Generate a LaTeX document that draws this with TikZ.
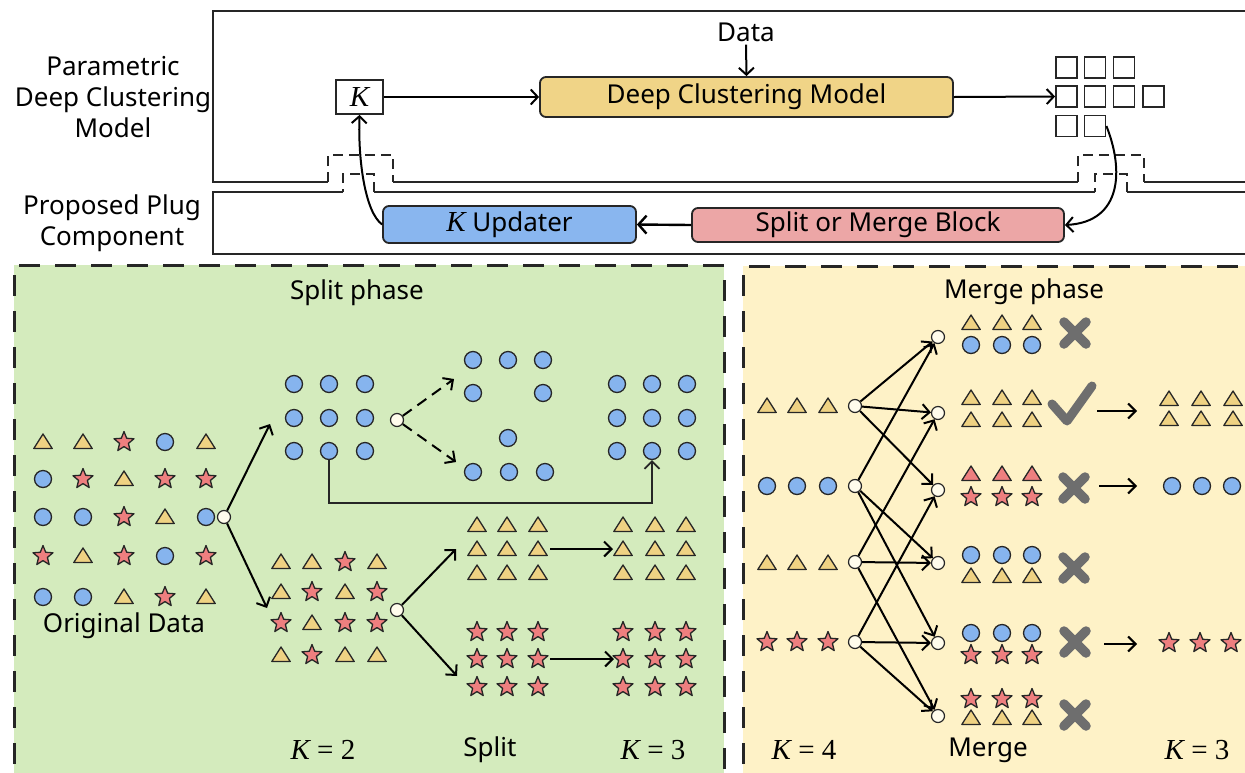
\documentclass[tikz,border=0pt]{standalone}
\usepackage{fontspec}
\setmainfont{Noto Sans}
\newfontfamily\kfont{Liberation Serif}
\usetikzlibrary{arrows.meta}
\definecolor{cblue}{HTML}{86B4EE}
\definecolor{tyel}{HTML}{EFD283}
\definecolor{sred}{HTML}{EE7F7F}
\definecolor{gbg}{HTML}{D4EBBD}
\definecolor{ybg}{HTML}{FEF2C7}
\definecolor{dcmfill}{HTML}{F0D487}
\definecolor{smfill}{HTML}{ECA6A6}
\definecolor{kufill}{HTML}{89B6EF}
\definecolor{ink}{HTML}{262626}
\definecolor{markgray}{HTML}{6E6E6E}
\definecolor{nodefill}{HTML}{FFFCEC}
\newcommand\KK{{\kfont\fontsize{29}{31}\selectfont\itshape K}}
\newcommand\Keq[1]{{\kfont\fontsize{29}{31}\selectfont\itshape K\upshape\ =\ #1}}
\tikzset{
  symline/.style={draw=ink, line width=1.3pt, line join=round},
  circ/.pic={\path[symline, fill=cblue] (0pt,0pt) circle (8.5pt);},
  tri/.pic={\path[symline, fill=tyel] (0pt,8pt) -- (9.2pt,-6.5pt) -- (-9.2pt,-6.5pt) -- cycle;},
  rtri/.pic={\path[symline, fill=sred] (0pt,8pt) -- (9.2pt,-6.5pt) -- (-9.2pt,-6.5pt) -- cycle;},
  star/.pic={\path[symline, fill=sred] (90:10.5pt) -- (126:4.6pt) -- (162:10.5pt) -- (198:4.6pt) -- (234:10.5pt) -- (270:4.6pt) -- (306:10.5pt) -- (342:4.6pt) -- (18:10.5pt) -- (54:4.6pt) -- cycle;},
  xmark/.pic={\draw[markgray, line width=9.5pt, line cap=round] (-11pt,-11pt) -- (11pt,11pt) (-11pt,11pt) -- (11pt,-11pt);},
  lbl/.style={font=\fontsize{26}{31}\selectfont, text=black, inner sep=0pt, align=center},
  boxline/.style={draw=ink, line width=1.8pt},
  notch/.style={draw=ink, line width=1.8pt, dash pattern=on 10pt off 6pt},
  blk/.style={draw=ink, line width=1.8pt, rounded corners=6pt, inner sep=0pt, font=\fontsize{26}{31}\selectfont},
  sq/.style={draw=ink, line width=1.8pt, minimum size=21pt, inner sep=0pt},
  onode/.style={circle, draw=ink, fill=nodefill, line width=1.2pt, minimum size=13pt, inner sep=0pt},
  arr/.style={draw=black, line width=2pt, -{Straight Barb[length=7pt,width=15pt]}},
  sarr/.style={draw=black, line width=2pt, -{Straight Barb[length=7.5pt,width=15pt]}},
  darr/.style={sarr, dash pattern=on 11pt off 7pt},
  panel/.style={line width=3pt, draw=ink, dash pattern=on 21pt off 15pt},
}
\begin{document}
\begin{tikzpicture}[x=1pt,y=-1pt]
\useasboundingbox (0,0) rectangle (1245,772);
\fill[white] (0,0) rectangle (1245,772);

% ---------- top section ----------
\draw[boxline] (1260,11) -- (213,11) -- (213,182) -- (328,182);
\draw[notch] (328,182) -- (328,155) -- (393,155) -- (393,182);
\draw[boxline] (393,182) -- (1078,182);
\draw[notch] (1078,182) -- (1078,155) -- (1144,155) -- (1144,182);
\draw[boxline] (1144,182) -- (1260,182);
\draw[boxline] (1260,192) -- (1127,192);
\draw[notch] (1127,192) -- (1127,174) -- (1095,174) -- (1095,192);
\draw[boxline] (1095,192) -- (374,192);
\draw[notch] (374,192) -- (374,174) -- (343,174) -- (343,192);
\draw[boxline] (343,192) -- (213,192) -- (213,254) -- (1260,254);

\node[lbl] (lab1) at (113,97) {Parametric\\Deep Clustering\\Model};
\node[lbl] (lab2) at (112,223) {Proposed Plug\\Component};

\node[lbl] (data) at (746,32) {Data};
\node[blk, rounded corners=0pt, minimum width=47pt, minimum height=34pt, fill=white] (kbox) at (359.5,97) {\KK};
\node[blk, fill=dcmfill, minimum width=413pt, minimum height=40pt] (dcm) at (746.5,97) {Deep Clustering Model};
\node[blk, fill=smfill, minimum width=372pt, minimum height=34pt] (smb) at (878,225) {Split or Merge Block};
\node[blk, fill=kufill, minimum width=253pt, minimum height=37pt] (kup) at (509.5,224.5) {\KK\ Updater};

\node[sq] (q1) at (1066.5,67.5) {};
\node[sq] (q2) at (1095,67.5) {};
\node[sq] (q3) at (1124,67.5) {};
\node[sq] (q4) at (1066.5,96.5) {};
\node[sq] (q5) at (1095,96.5) {};
\node[sq] (q6) at (1124,96.5) {};
\node[sq] (q7) at (1153.5,96.5) {};
\node[sq] (q8) at (1066.5,126) {};
\node[sq] (q9) at (1095,126) {};

\draw[arr] (data.south) ++(0,3) coordinate (dtop) (dtop) -- (dcm.north);
\draw[arr] (kbox.east) -- (dcm.west);
\draw[arr] (dcm.east) -- (q4.west);
\draw[arr] (q9.east) .. controls (1124,170) and (1122,222) .. (smb.east);
\draw[draw=black, line width=2.4pt, -{Straight Barb[length=8pt,width=18pt]}] (smb.west) -- (kup.east);
\draw[arr] (kup.west) .. controls (365,212) and (358,160) .. (kbox.south);

% ---------- panels ----------
\path[fill=gbg] (14,265) rectangle (724,800);
\draw[panel] (14,800) -- (14,265) -- (724,265) -- (724,800);
\path[fill=ybg] (743,266) rectangle (1265,800);
\draw[panel] (743,800) -- (743,266) -- (1265,266);

% ---------- split phase ----------
\node[lbl] (sph) at (357,293) {Split phase};
% original data
\pic at (43,442) {tri};  \pic at (83,442) {tri};  \pic at (124,442) {star}; \pic at (165,442) {circ}; \pic at (206,442) {tri};
\pic at (43,479) {circ}; \pic at (83,479) {star}; \pic at (124,479) {tri};  \pic at (165,479) {star}; \pic at (206,479) {star};
\pic at (43,517) {circ}; \pic at (83,517) {circ}; \pic at (124,517) {star}; \pic at (165,517) {tri};  \pic at (206,517) {circ};
\pic at (43,556) {star}; \pic at (83,556) {tri};  \pic at (124,556) {star}; \pic at (165,556) {circ}; \pic at (206,556) {star};
\pic at (43,597) {circ}; \pic at (83,597) {circ}; \pic at (124,597) {tri};  \pic at (165,597) {star}; \pic at (206,597) {tri};
\node[lbl] (orig) at (124,626) {Original Data};
\node[onode] (o1) at (224,517) {};
\coordinate (a1) at (270,424);
\coordinate (a2) at (267,608);
\draw[sarr] (o1) -- (a1);
\draw[sarr] (o1) -- (a2);

% blue cluster
\foreach \x in {294,329,365} \foreach \y in {384,418,451} \pic at (\x,\y) {circ};
\node[onode] (o2) at (397,420) {};
\coordinate (b1) at (454,379);
\coordinate (b2) at (456,462);
\draw[darr] (o2) -- (b1);
\draw[darr] (o2) -- (b2);
\pic at (473,360) {circ}; \pic at (508,360) {circ}; \pic at (543,360) {circ};
\pic at (473,393) {circ}; \pic at (543,393) {circ};
\pic at (508,438) {circ};
\pic at (473,472) {circ}; \pic at (509,472) {circ}; \pic at (545,472) {circ};
\foreach \x in {617,652,687} \foreach \y in {384,418,451} \pic at (\x,\y) {circ};
\coordinate (c1) at (329,460);
\coordinate (c2) at (652,460);
\draw[sarr, line width=1.8pt, draw=ink] (c1) -- (329,503) -- (652,503) -- (c2);

% mixed cluster
\pic at (281,562) {tri};  \pic at (312,562) {tri};  \pic at (345,562) {star}; \pic at (377,562) {tri};
\pic at (281,592) {tri};  \pic at (312,592) {star}; \pic at (345,592) {tri};  \pic at (377,592) {star};
\pic at (281,623) {star}; \pic at (312,623) {tri};  \pic at (345,623) {star}; \pic at (377,623) {star};
\pic at (281,655) {tri};  \pic at (312,655) {star}; \pic at (345,655) {tri};  \pic at (377,655) {tri};
\node[onode] (o3) at (397,610) {};
\coordinate (d1) at (456,549);
\coordinate (d2) at (457,676);
\draw[sarr] (o3) -- (d1);
\draw[sarr] (o3) -- (d2);
\foreach \x in {477,507,538,623,655,686} \foreach \y in {525,549,573} \pic at (\x,\y) {tri};
\foreach \x in {477,507,538,623,655,686} \foreach \y in {632,659,687} \pic at (\x,\y) {star};
\coordinate (e1) at (550,549); \coordinate (e2) at (613,549);
\coordinate (f1) at (550,659); \coordinate (f2) at (614,659);
\draw[sarr] (e1) -- (e2);
\draw[sarr] (f1) -- (f2);
\node[lbl] (k2) at (323,750) {\Keq{2}};
\node[lbl] (spl) at (490,750) {Split};
\node[lbl] (k3a) at (653,750) {\Keq{3}};

% ---------- merge phase ----------
\node[lbl] (mph) at (1024,292) {Merge phase};
\foreach \x in {767,797,828} {
  \pic at (\x,406) {tri};
  \pic at (\x,486) {circ};
  \pic at (\x,563) {tri};
  \pic at (\x,642) {star};
}
\node[onode] (L1) at (855,406) {};
\node[onode] (L2) at (855,486) {};
\node[onode] (L3) at (855,562) {};
\node[onode] (L4) at (855,642) {};
\node[onode] (R1) at (938,337) {};
\node[onode] (R2) at (938,413) {};
\node[onode] (R3) at (938,490) {};
\node[onode] (R4) at (938,563) {};
\node[onode] (R5) at (938,643) {};
\node[onode] (R6) at (938,716) {};
\foreach \a/\b in {L1/R1,L1/R2,L1/R3,L2/R1,L2/R4,L2/R5,L3/R2,L3/R4,L3/R6,L4/R3,L4/R5,L4/R6}
  \draw[sarr] (\a) -- (\b);

\foreach \x in {971,1002,1032} {
  \pic at (\x,323) {tri};  \pic at (\x,345) {circ};
  \pic at (\x,398) {tri};  \pic at (\x,420) {tri};
  \pic at (\x,474) {rtri}; \pic at (\x,497) {star};
  \pic at (\x,555) {circ}; \pic at (\x,576) {tri};
  \pic at (\x,633) {circ}; \pic at (\x,655) {star};
  \pic at (\x,699) {star}; \pic at (\x,718) {tri};
}
\pic at (1075,333) {xmark};
\pic at (1074,488) {xmark};
\pic at (1074,568) {xmark};
\pic at (1075,642) {xmark};
\pic at (1075,715) {xmark};
\draw[markgray, line width=9pt, line cap=round, line join=round] (1052,404) -- (1067,421) -- (1092,386);

\coordinate (g1) at (1097,411); \coordinate (g2) at (1137,411);
\coordinate (h1) at (1099,486); \coordinate (h2) at (1137,486);
\coordinate (i1) at (1104,644); \coordinate (i2) at (1137,644);
\draw[sarr] (g1) -- (g2);
\draw[sarr] (h1) -- (h2);
\draw[sarr] (i1) -- (i2);
\foreach \x in {1169,1201,1233} { \pic at (\x,399) {tri}; \pic at (\x,419) {tri}; }
\foreach \x in {1172,1202,1232} { \pic at (\x,486) {circ}; }
\foreach \x in {1169,1200,1231} { \pic at (\x,643) {star}; }

\node[lbl] (k4) at (804,750) {\Keq{4}};
\node[lbl] (mrg) at (988,750) {Merge};
\node[lbl] (k3b) at (1197,750) {\Keq{3}};
\end{tikzpicture}
\end{document}
